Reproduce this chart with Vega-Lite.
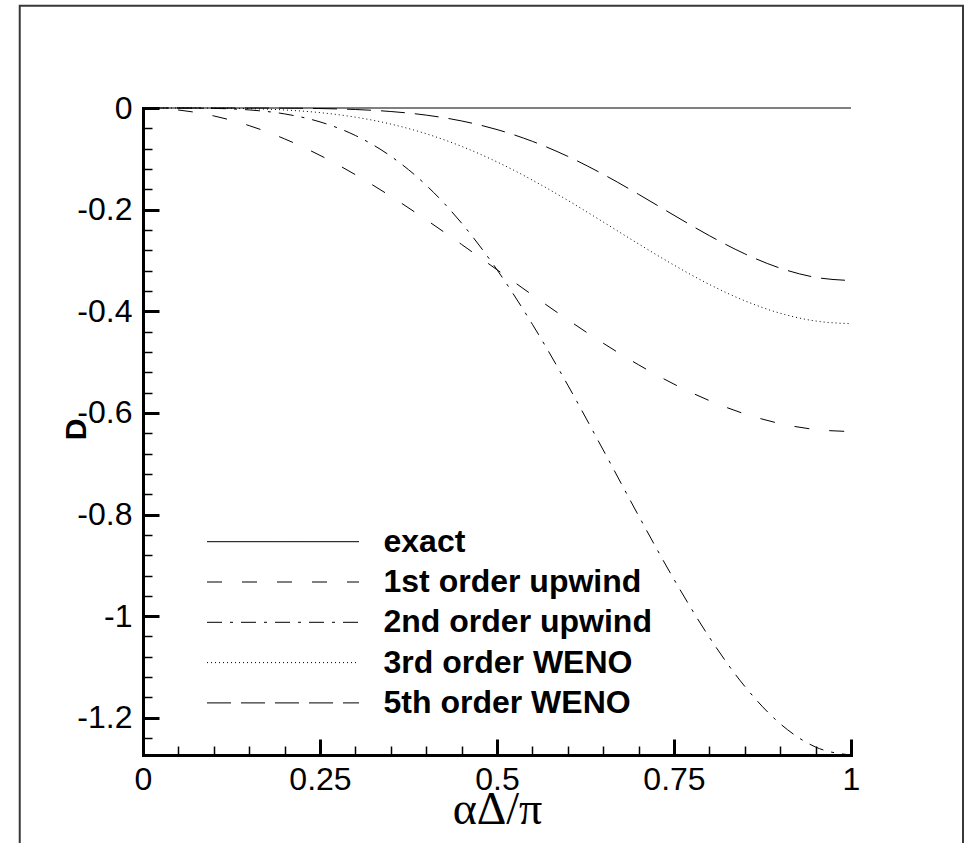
{
  "$schema": "https://vega.github.io/schema/vega-lite/v6.json",
  "width": 708,
  "height": 647,
  "autosize": "none",
  "padding": {"left": 143, "top": 108, "right": 115, "bottom": 88},
  "background": "white",
  "config": {"view": {"stroke": null}},
  "data": {"values": [
    {"x": 0, "D": 0, "series": "exact"},
    {"x": 1, "D": 0, "series": "exact"},
    {"x": 0, "D": 0, "series": "1st order upwind"},
    {"x": 0.05, "D": -0.00392, "series": "1st order upwind"},
    {"x": 0.1, "D": -0.01558, "series": "1st order upwind"},
    {"x": 0.15, "D": -0.03469, "series": "1st order upwind"},
    {"x": 0.2, "D": -0.06079, "series": "1st order upwind"},
    {"x": 0.25, "D": -0.09323, "series": "1st order upwind"},
    {"x": 0.3, "D": -0.13121, "series": "1st order upwind"},
    {"x": 0.35, "D": -0.1738, "series": "1st order upwind"},
    {"x": 0.4, "D": -0.21995, "series": "1st order upwind"},
    {"x": 0.45, "D": -0.26852, "series": "1st order upwind"},
    {"x": 0.5, "D": -0.31831, "series": "1st order upwind"},
    {"x": 0.55, "D": -0.3681, "series": "1st order upwind"},
    {"x": 0.6, "D": -0.41667, "series": "1st order upwind"},
    {"x": 0.65, "D": -0.46282, "series": "1st order upwind"},
    {"x": 0.7, "D": -0.50541, "series": "1st order upwind"},
    {"x": 0.75, "D": -0.54339, "series": "1st order upwind"},
    {"x": 0.8, "D": -0.57583, "series": "1st order upwind"},
    {"x": 0.85, "D": -0.60193, "series": "1st order upwind"},
    {"x": 0.9, "D": -0.62104, "series": "1st order upwind"},
    {"x": 0.95, "D": -0.6327, "series": "1st order upwind"},
    {"x": 1, "D": -0.63662, "series": "1st order upwind"},
    {"x": 0, "D": 0, "series": "2nd order upwind"},
    {"x": 0.05, "D": -0.00005, "series": "2nd order upwind"},
    {"x": 0.1, "D": -0.00076, "series": "2nd order upwind"},
    {"x": 0.15, "D": -0.00378, "series": "2nd order upwind"},
    {"x": 0.2, "D": -0.01161, "series": "2nd order upwind"},
    {"x": 0.25, "D": -0.02731, "series": "2nd order upwind"},
    {"x": 0.3, "D": -0.05409, "series": "2nd order upwind"},
    {"x": 0.35, "D": -0.0949, "series": "2nd order upwind"},
    {"x": 0.4, "D": -0.15198, "series": "2nd order upwind"},
    {"x": 0.45, "D": -0.22651, "series": "2nd order upwind"},
    {"x": 0.5, "D": -0.31831, "series": "2nd order upwind"},
    {"x": 0.55, "D": -0.42569, "series": "2nd order upwind"},
    {"x": 0.6, "D": -0.54543, "series": "2nd order upwind"},
    {"x": 0.65, "D": -0.67294, "series": "2nd order upwind"},
    {"x": 0.7, "D": -0.80248, "series": "2nd order upwind"},
    {"x": 0.75, "D": -0.92762, "series": "2nd order upwind"},
    {"x": 0.8, "D": -1.04168, "series": "2nd order upwind"},
    {"x": 0.85, "D": -1.13825, "series": "2nd order upwind"},
    {"x": 0.9, "D": -1.21169, "series": "2nd order upwind"},
    {"x": 0.95, "D": -1.25761, "series": "2nd order upwind"},
    {"x": 1, "D": -1.27324, "series": "2nd order upwind"},
    {"x": 0, "D": 0, "series": "3rd order WENO"},
    {"x": 0.05, "D": -0.00002, "series": "3rd order WENO"},
    {"x": 0.1, "D": -0.00025, "series": "3rd order WENO"},
    {"x": 0.15, "D": -0.00126, "series": "3rd order WENO"},
    {"x": 0.2, "D": -0.00387, "series": "3rd order WENO"},
    {"x": 0.25, "D": -0.0091, "series": "3rd order WENO"},
    {"x": 0.3, "D": -0.01803, "series": "3rd order WENO"},
    {"x": 0.35, "D": -0.03163, "series": "3rd order WENO"},
    {"x": 0.4, "D": -0.05066, "series": "3rd order WENO"},
    {"x": 0.45, "D": -0.0755, "series": "3rd order WENO"},
    {"x": 0.5, "D": -0.1061, "series": "3rd order WENO"},
    {"x": 0.55, "D": -0.1419, "series": "3rd order WENO"},
    {"x": 0.6, "D": -0.18181, "series": "3rd order WENO"},
    {"x": 0.65, "D": -0.22431, "series": "3rd order WENO"},
    {"x": 0.7, "D": -0.26749, "series": "3rd order WENO"},
    {"x": 0.75, "D": -0.30921, "series": "3rd order WENO"},
    {"x": 0.8, "D": -0.34723, "series": "3rd order WENO"},
    {"x": 0.85, "D": -0.37942, "series": "3rd order WENO"},
    {"x": 0.9, "D": -0.4039, "series": "3rd order WENO"},
    {"x": 0.95, "D": -0.4192, "series": "3rd order WENO"},
    {"x": 1, "D": -0.42441, "series": "3rd order WENO"},
    {"x": 0, "D": 0, "series": "5th order WENO"},
    {"x": 0.05, "D": 0, "series": "5th order WENO"},
    {"x": 0.1, "D": -0.000005, "series": "5th order WENO"},
    {"x": 0.15, "D": -0.000055, "series": "5th order WENO"},
    {"x": 0.2, "D": -0.0003, "series": "5th order WENO"},
    {"x": 0.25, "D": -0.00107, "series": "5th order WENO"},
    {"x": 0.3, "D": -0.00297, "series": "5th order WENO"},
    {"x": 0.35, "D": -0.00691, "series": "5th order WENO"},
    {"x": 0.4, "D": -0.014, "series": "5th order WENO"},
    {"x": 0.45, "D": -0.02548, "series": "5th order WENO"},
    {"x": 0.5, "D": -0.04244, "series": "5th order WENO"},
    {"x": 0.55, "D": -0.06564, "series": "5th order WENO"},
    {"x": 0.6, "D": -0.0952, "series": "5th order WENO"},
    {"x": 0.65, "D": -0.13046, "series": "5th order WENO"},
    {"x": 0.7, "D": -0.16989, "series": "5th order WENO"},
    {"x": 0.75, "D": -0.21114, "series": "5th order WENO"},
    {"x": 0.8, "D": -0.25126, "series": "5th order WENO"},
    {"x": 0.85, "D": -0.28699, "series": "5th order WENO"},
    {"x": 0.9, "D": -0.31521, "series": "5th order WENO"},
    {"x": 0.95, "D": -0.3333, "series": "5th order WENO"},
    {"x": 1, "D": -0.33953, "series": "5th order WENO"}
  ]},
  "layer": [
    {
      "mark": {"type": "line", "interpolate": "monotone", "color": "black", "strokeWidth": 1},
      "encoding": {
        "x": {
          "field": "x", "type": "quantitative",
          "scale": {"domain": [0, 1], "nice": false, "zero": false},
          "axis": {
            "values": [0, 0.05, 0.1, 0.15, 0.2, 0.25, 0.3, 0.35, 0.4, 0.45, 0.5, 0.55, 0.6, 0.65, 0.7, 0.75, 0.8, 0.85, 0.9, 0.95, 1],
            "grid": false,
            "domain": true, "domainColor": "black", "domainWidth": 3, "domainCap": "square",
            "tickColor": "black",
            "tickSize": {"condition": {"test": "abs(datum.value*4 - round(datum.value*4)) < 0.001", "value": -16}, "value": -9},
            "tickWidth": {"condition": {"test": "abs(datum.value*4 - round(datum.value*4)) < 0.001", "value": 3}, "value": 1.5},
            "labelExpr": "abs(datum.value*4 - round(datum.value*4)) < 0.001 ? '' + datum.value : ''",
            "labelFont": "Liberation Sans", "labelFontSize": 32, "labelColor": "black",
            "labelPadding": 25, "labelFlush": false, "labelOverlap": false,
            "title": "αΔ/π",
            "titleFont": "Liberation Serif", "titleFontSize": 46, "titleFontWeight": "normal", "titleColor": "black",
            "titleX": 354, "titleY": 68, "titleBaseline": "alphabetic", "titleAlign": "center"
          }
        },
        "y": {
          "field": "D", "type": "quantitative",
          "scale": {"domain": [-1.27324, 0], "nice": false, "zero": false},
          "axis": {
            "values": [0, -0.04, -0.08, -0.12, -0.16, -0.2, -0.24, -0.28, -0.32, -0.36, -0.4, -0.44, -0.48, -0.52, -0.56, -0.6, -0.64, -0.68, -0.72, -0.76, -0.8, -0.84, -0.88, -0.92, -0.96, -1, -1.04, -1.08, -1.12, -1.16, -1.2, -1.24],
            "grid": false,
            "domain": true, "domainColor": "black", "domainWidth": 3, "domainCap": "square",
            "tickColor": "black",
            "tickSize": {"condition": {"test": "abs(datum.value*5 - round(datum.value*5)) < 0.001", "value": -16}, "value": -9},
            "tickWidth": {"condition": {"test": "abs(datum.value*5 - round(datum.value*5)) < 0.001", "value": 3}, "value": 1.5},
            "labelExpr": "abs(datum.value*5 - round(datum.value*5)) < 0.001 ? (datum.value == 0 ? '0' : '' + datum.value) : ''",
            "labelFont": "Liberation Sans", "labelFontSize": 32, "labelColor": "black",
            "labelPadding": 27, "labelFlush": false, "labelOverlap": false, "labelBaseline": "middle",
            "title": "D",
            "titleFont": "Liberation Sans", "titleFontSize": 30, "titleFontWeight": "bold", "titleColor": "black",
            "titleAngle": 270, "titleX": -58, "titleY": 321, "titleBaseline": "alphabetic", "titleAlign": "center"
          }
        },
        "strokeDash": {
          "field": "series", "type": "nominal",
          "scale": {
            "domain": ["exact", "1st order upwind", "2nd order upwind", "3rd order WENO", "5th order WENO"],
            "range": [[1, 0], [15, 20], [15, 8, 3, 8], [1, 3], [24, 10]]
          },
          "legend": {
            "orient": "none", "legendX": 63.5, "legendY": 413.7,
            "title": null, "padding": 0,
            "symbolType": "stroke", "symbolSize": 23104, "symbolStrokeWidth": 1, "symbolStrokeColor": "black",
            "clipHeight": 40, "rowPadding": 0.3,
            "labelFont": "Liberation Sans", "labelFontSize": 32, "labelFontWeight": "bold", "labelColor": "black",
            "labelOffset": 24, "labelLimit": 500
          }
        }
      }
    },
    {
      "data": {"values": [{}]},
      "mark": {"type": "rect", "fillOpacity": 0, "stroke": "#383838", "strokeWidth": 2, "clip": false},
      "encoding": {
        "x": {
          "datum": -0.1741, "type": "quantitative",
          "scale": {"domain": [0, 1], "nice": false, "zero": false},
          "axis": {
            "values": [0, 0.05, 0.1, 0.15, 0.2, 0.25, 0.3, 0.35, 0.4, 0.45, 0.5, 0.55, 0.6, 0.65, 0.7, 0.75, 0.8, 0.85, 0.9, 0.95, 1],
            "grid": false,
            "domain": true, "domainColor": "black", "domainWidth": 3, "domainCap": "square",
            "tickColor": "black",
            "tickSize": {"condition": {"test": "abs(datum.value*4 - round(datum.value*4)) < 0.001", "value": -16}, "value": -9},
            "tickWidth": {"condition": {"test": "abs(datum.value*4 - round(datum.value*4)) < 0.001", "value": 3}, "value": 1.5},
            "labelExpr": "abs(datum.value*4 - round(datum.value*4)) < 0.001 ? '' + datum.value : ''",
            "labelFont": "Liberation Sans", "labelFontSize": 32, "labelColor": "black",
            "labelPadding": 25, "labelFlush": false, "labelOverlap": false,
            "title": "αΔ/π",
            "titleFont": "Liberation Serif", "titleFontSize": 46, "titleFontWeight": "normal", "titleColor": "black",
            "titleX": 354, "titleY": 68, "titleBaseline": "alphabetic", "titleAlign": "center"
          }
        },
        "x2": {"datum": 1.1582},
        "y": {
          "datum": 0.2013, "type": "quantitative",
          "scale": {"domain": [-1.27324, 0], "nice": false, "zero": false},
          "axis": {
            "values": [0, -0.04, -0.08, -0.12, -0.16, -0.2, -0.24, -0.28, -0.32, -0.36, -0.4, -0.44, -0.48, -0.52, -0.56, -0.6, -0.64, -0.68, -0.72, -0.76, -0.8, -0.84, -0.88, -0.92, -0.96, -1, -1.04, -1.08, -1.12, -1.16, -1.2, -1.24],
            "grid": false,
            "domain": true, "domainColor": "black", "domainWidth": 3, "domainCap": "square",
            "tickColor": "black",
            "tickSize": {"condition": {"test": "abs(datum.value*5 - round(datum.value*5)) < 0.001", "value": -16}, "value": -9},
            "tickWidth": {"condition": {"test": "abs(datum.value*5 - round(datum.value*5)) < 0.001", "value": 3}, "value": 1.5},
            "labelExpr": "abs(datum.value*5 - round(datum.value*5)) < 0.001 ? (datum.value == 0 ? '0' : '' + datum.value) : ''",
            "labelFont": "Liberation Sans", "labelFontSize": 32, "labelColor": "black",
            "labelPadding": 27, "labelFlush": false, "labelOverlap": false, "labelBaseline": "middle",
            "title": "D",
            "titleFont": "Liberation Sans", "titleFontSize": 30, "titleFontWeight": "bold", "titleColor": "black",
            "titleAngle": 270, "titleX": -58, "titleY": 321, "titleBaseline": "alphabetic", "titleAlign": "center"
          }
        },
        "y2": {"datum": -1.46}
      }
    }
  ]
}
